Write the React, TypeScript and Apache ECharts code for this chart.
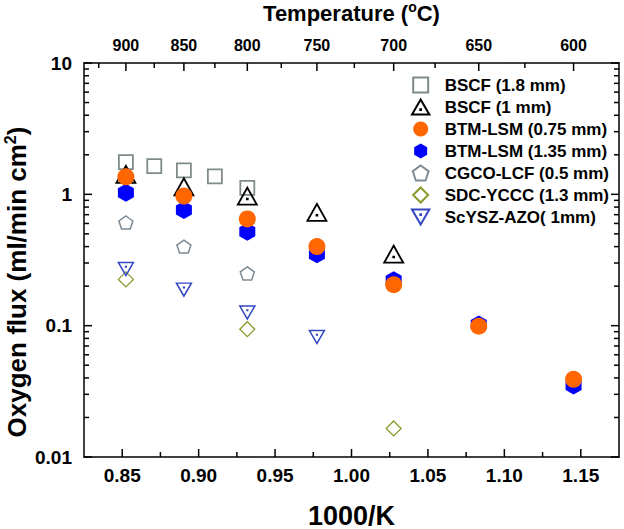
import React, { useEffect, useRef } from 'react';
import * as echarts from 'echarts';

const FONT = '"Liberation Sans", Arial, Helvetica, sans-serif';

const tBSCF18 = [900, 875, 850, 825, 800];
const fBSCF18 = [1.76, 1.64, 1.52, 1.37, 1.12];

const tBSCF1 = [900, 850, 800, 750, 700];
const fBSCF1 = [1.42, 1.14, 0.97, 0.73, 0.35];

const tBTM075 = [900, 850, 800, 750, 700, 650, 600];
const fBTM075 = [1.36, 0.97, 0.65, 0.4, 0.205, 0.099, 0.039];

const tBTM135 = [900, 850, 800, 750, 700, 650, 600];
const fBTM135 = [1.03, 0.76, 0.52, 0.35, 0.222, 0.102, 0.035];

const tCGCO = [900, 850, 800];
const fCGCO = [0.61, 0.4, 0.25];

const tSDC = [900, 800, 700];
const fSDC = [0.225, 0.094, 0.0165];

const tScYSZ = [900, 850, 800, 750];
const fScYSZ = [0.27, 0.188, 0.126, 0.082];

const seriesNames = [
  'BSCF (1.8 mm)',
  'BSCF (1 mm)',
  'BTM-LSM (0.75 mm)',
  'BTM-LSM (1.35 mm)',
  'CGCO-LCF (0.5 mm)',
  'SDC-YCCC (1.3 mm)',
  'ScYSZ-AZO( 1mm)',
];

// axis ticks
const xTickMajor = [0.85, 0.9, 0.95, 1.0, 1.05, 1.1, 1.15];
const xTickMinor = [0.875, 0.925, 0.975, 1.025, 1.075, 1.125];
const tempMajor = [900, 850, 800, 750, 700, 650, 600];
const tempMinor = [925, 875, 825, 775, 725, 675, 625];
const yDecades = [0.01, 0.1, 1, 10];
const yMinorMult = [2, 3, 4, 5, 6, 7, 8, 9];

const X_MIN = 0.825;
const X_MAX = 1.175;
const Y_MIN = 0.01;
const Y_MAX = 10;

const toInvK = (t: number) => 1000 / (t + 273.15);
const pts = (ts: number[], fs: number[]) => ts.map((t, i) => [toInvK(t), fs[i]]);

const SYM_SQUARE = 'path://M0,0H10V10H0Z';
const SYM_TRI_UP = 'path://M10,0L20,17.3L0,17.3Z M9.6,11.2H10.4V12H9.6Z';
const SYM_TRI_DOWN = 'path://M0,0L20,0L10,17.3Z M9.6,5.4H10.4V6.2H9.6Z';
const SYM_PENTA = 'path://M9.51,0L19.02,6.91L15.39,18.09L3.63,18.09L0,6.91Z';
const SYM_HEXA = 'path://M8.66,0L17.32,5L17.32,15L8.66,20L0,15L0,5Z';
const SYM_DIAMOND = 'path://M10,0L20,10L10,20L0,10Z';

function tickSeries(data: number[][], dx: number, dy: number) {
  return {
    type: 'custom',
    coordinateSystem: 'cartesian2d',
    xAxisIndex: 0,
    yAxisIndex: 0,
    silent: true,
    clip: false,
    z: 10,
    data,
    renderItem: (_params: any, api: any) => {
      const p = api.coord([api.value(0), api.value(1)]);
      const len = api.value(2);
      return {
        type: 'line',
        shape: { x1: p[0], y1: p[1], x2: p[0] + dx * len, y2: p[1] + dy * len },
        style: { stroke: '#000', lineWidth: 1.5 },
      };
    },
  };
}

export default function App() {
  const ref = useRef<HTMLDivElement>(null);

  useEffect(() => {
    if (!ref.current) return;
    const chart = echarts.init(ref.current, undefined, { renderer: 'svg' });

    const yMinor = yDecades
      .slice(0, 3)
      .flatMap((d) => yMinorMult.map((m) => +(d * m).toPrecision(3)));
    const yTicks = [
      ...yDecades.map((v) => [v, 8]),
      ...yMinor.map((v) => [v, 5]),
    ];
    const leftTicks = yTicks.map(([v, l]) => [X_MIN, v, l]);
    const rightTicks = yTicks.map(([v, l]) => [X_MAX, v, l]);
    const bottomTicks = [
      ...xTickMajor.map((v) => [v, Y_MIN, 8]),
      ...xTickMinor.map((v) => [v, Y_MIN, 5]),
    ];
    const topTicks = [
      ...tempMajor.map((t) => [toInvK(t), Y_MAX, 8]),
      ...tempMinor.map((t) => [toInvK(t), Y_MAX, 5]),
    ];

    const openStyle = (c: string, w = 1.5) => ({
      color: 'rgba(255,255,255,0)',
      borderColor: c,
      borderWidth: w,
      opacity: 1,
    });

    const option: any = {
      animation: false,
      backgroundColor: '#fff',
      grid: {
        left: 84,
        right: 5,
        top: 63,
        bottom: 72,
        containLabel: false,
        outerBoundsMode: 'none',
      },
      legend: {
        orient: 'vertical',
        left: 406,
        top: 71.5,
        itemWidth: 38,
        itemHeight: 15,
        itemGap: 5,
        symbolKeepAspect: true,
        selectedMode: false,
        data: seriesNames,
        textStyle: {
          fontFamily: FONT,
          fontSize: 17,
          fontWeight: 'bold',
          color: '#000',
          lineHeight: 17,
        },
      },
      xAxis: [
        {
          type: 'value',
          position: 'bottom',
          min: X_MIN,
          max: X_MAX,
          interval: 0.025,
          name: '1000/K',
          nameLocation: 'middle',
          nameGap: 45,
          nameMoveOverlap: false,
          nameTextStyle: {
            fontFamily: FONT,
            fontSize: 27,
            fontWeight: 'bold',
            color: '#000',
          },
          axisLine: { show: true, onZero: false, lineStyle: { color: '#000', width: 1.5 } },
          axisTick: { show: false },
          splitLine: { show: false },
          axisLabel: {
            margin: 9,
            fontFamily: FONT,
            fontSize: 19,
            fontWeight: 'bold',
            color: '#000',
            lineHeight: 19,
            showMinLabel: false,
            showMaxLabel: false,
            formatter: (v: number) => {
              const k = Math.round(v * 1000);
              return k % 50 === 0 ? (k / 1000).toFixed(2) : '';
            },
          },
        },
        {
          type: 'value',
          position: 'top',
          min: X_MIN,
          max: X_MAX,
          name: '{a|Temperature (}{s|o}{a|C)}',
          nameLocation: 'middle',
          nameGap: 37,
          nameMoveOverlap: false,
          nameTextStyle: {
            rich: {
              a: { fontFamily: FONT, fontSize: 22, fontWeight: 'bold', color: '#000', lineHeight: 26 },
              s: {
                fontFamily: FONT,
                fontSize: 14,
                fontWeight: 'bold',
                color: '#000',
                lineHeight: 14,
                verticalAlign: 'top',
              },
            },
          },
          axisLine: { show: true, onZero: false, lineStyle: { color: '#000', width: 1.5 } },
          axisTick: { show: false },
          axisLabel: { show: false },
          splitLine: { show: false },
        },
      ],
      yAxis: [
        {
          type: 'log',
          logBase: 10,
          position: 'left',
          min: Y_MIN,
          max: Y_MAX,
          name: '{a|Oxygen flux (ml/min cm}{s|2}{a|)}',
          nameLocation: 'middle',
          nameGap: 52,
          nameMoveOverlap: false,
          nameTextStyle: {
            padding: [0, 44, 0, 0],
            rich: {
              a: { fontFamily: FONT, fontSize: 26, fontWeight: 'bold', color: '#000', lineHeight: 30 },
              s: {
                fontFamily: FONT,
                fontSize: 16,
                fontWeight: 'bold',
                color: '#000',
                lineHeight: 16,
                verticalAlign: 'top',
              },
            },
          },
          axisLine: { show: true, onZero: false, lineStyle: { color: '#000', width: 1.5 } },
          axisTick: { show: false },
          minorTick: { show: false },
          splitLine: { show: false },
          axisLabel: {
            margin: 12,
            fontFamily: FONT,
            fontSize: 19,
            fontWeight: 'bold',
            color: '#000',
            formatter: (v: number) => String(+v.toPrecision(3)),
          },
        },
        {
          type: 'log',
          logBase: 10,
          position: 'right',
          min: Y_MIN,
          max: Y_MAX,
          axisLine: { show: true, onZero: false, lineStyle: { color: '#000', width: 1.5 } },
          axisTick: { show: false },
          axisLabel: { show: false },
          splitLine: { show: false },
        },
      ],
      series: [
        {
          name: seriesNames[0],
          type: 'scatter',
          data: pts(tBSCF18, fBSCF18),
          symbol: SYM_SQUARE,
          symbolSize: [14, 14],
          itemStyle: openStyle('#7f8b8b', 1.8),
          z: 2,
        },
        {
          name: seriesNames[1],
          type: 'scatter',
          data: pts(tBSCF1, fBSCF1),
          symbol: SYM_TRI_UP,
          symbolSize: [19, 17],
          itemStyle: openStyle('#000000', 1.8),
          z: 2,
        },
        {
          name: seriesNames[2],
          type: 'scatter',
          data: pts(tBTM075, fBTM075),
          symbol: 'circle',
          symbolSize: 17,
          itemStyle: { color: '#ff6600', borderWidth: 0, opacity: 1 },
          z: 5,
        },
        {
          name: seriesNames[3],
          type: 'scatter',
          data: pts(tBTM135, fBTM135),
          symbol: SYM_HEXA,
          symbolSize: [16, 18],
          itemStyle: { color: '#0000ff', borderWidth: 0, opacity: 1 },
          z: 4,
        },
        {
          name: seriesNames[4],
          type: 'scatter',
          data: pts(tCGCO, fCGCO),
          symbol: SYM_PENTA,
          symbolSize: [14, 13],
          itemStyle: openStyle('#7d8c96', 1.5),
          z: 2,
        },
        {
          name: seriesNames[5],
          type: 'scatter',
          data: pts(tSDC, fSDC),
          symbol: SYM_DIAMOND,
          symbolSize: [15, 15],
          itemStyle: openStyle('#8c9a2e', 1.3),
          z: 2,
        },
        {
          name: seriesNames[6],
          type: 'scatter',
          data: pts(tScYSZ, fScYSZ),
          symbol: SYM_TRI_DOWN,
          symbolSize: [15, 13],
          itemStyle: openStyle('#3347c4', 1.5),
          z: 3,
        },
        tickSeries(leftTicks, 1, 0),
        tickSeries(rightTicks, -1, 0),
        tickSeries(bottomTicks, 0, -1),
        tickSeries(topTicks, 0, 1),
        {
          type: 'custom',
          coordinateSystem: 'cartesian2d',
          xAxisIndex: 0,
          yAxisIndex: 0,
          silent: true,
          clip: false,
          z: 10,
          data: tempMajor.map((t) => [toInvK(t), Y_MAX, t]),
          renderItem: (_params: any, api: any) => {
            const p = api.coord([api.value(0), api.value(1)]);
            return {
              type: 'text',
              x: p[0],
              y: p[1] - 18,
              style: {
                text: String(api.value(2)),
                fontFamily: FONT,
                fontSize: 16,
                fontWeight: 'bold',
                fill: '#000',
                align: 'center',
                verticalAlign: 'middle',
              },
            };
          },
        },
      ],
    };

    chart.setOption(option);
    return () => chart.dispose();
  }, []);

  return (
    <div
      ref={ref}
      style={{ position: 'fixed', left: 0, top: 0, width: 624, height: 529, background: '#fff' }}
    />
  );
}
